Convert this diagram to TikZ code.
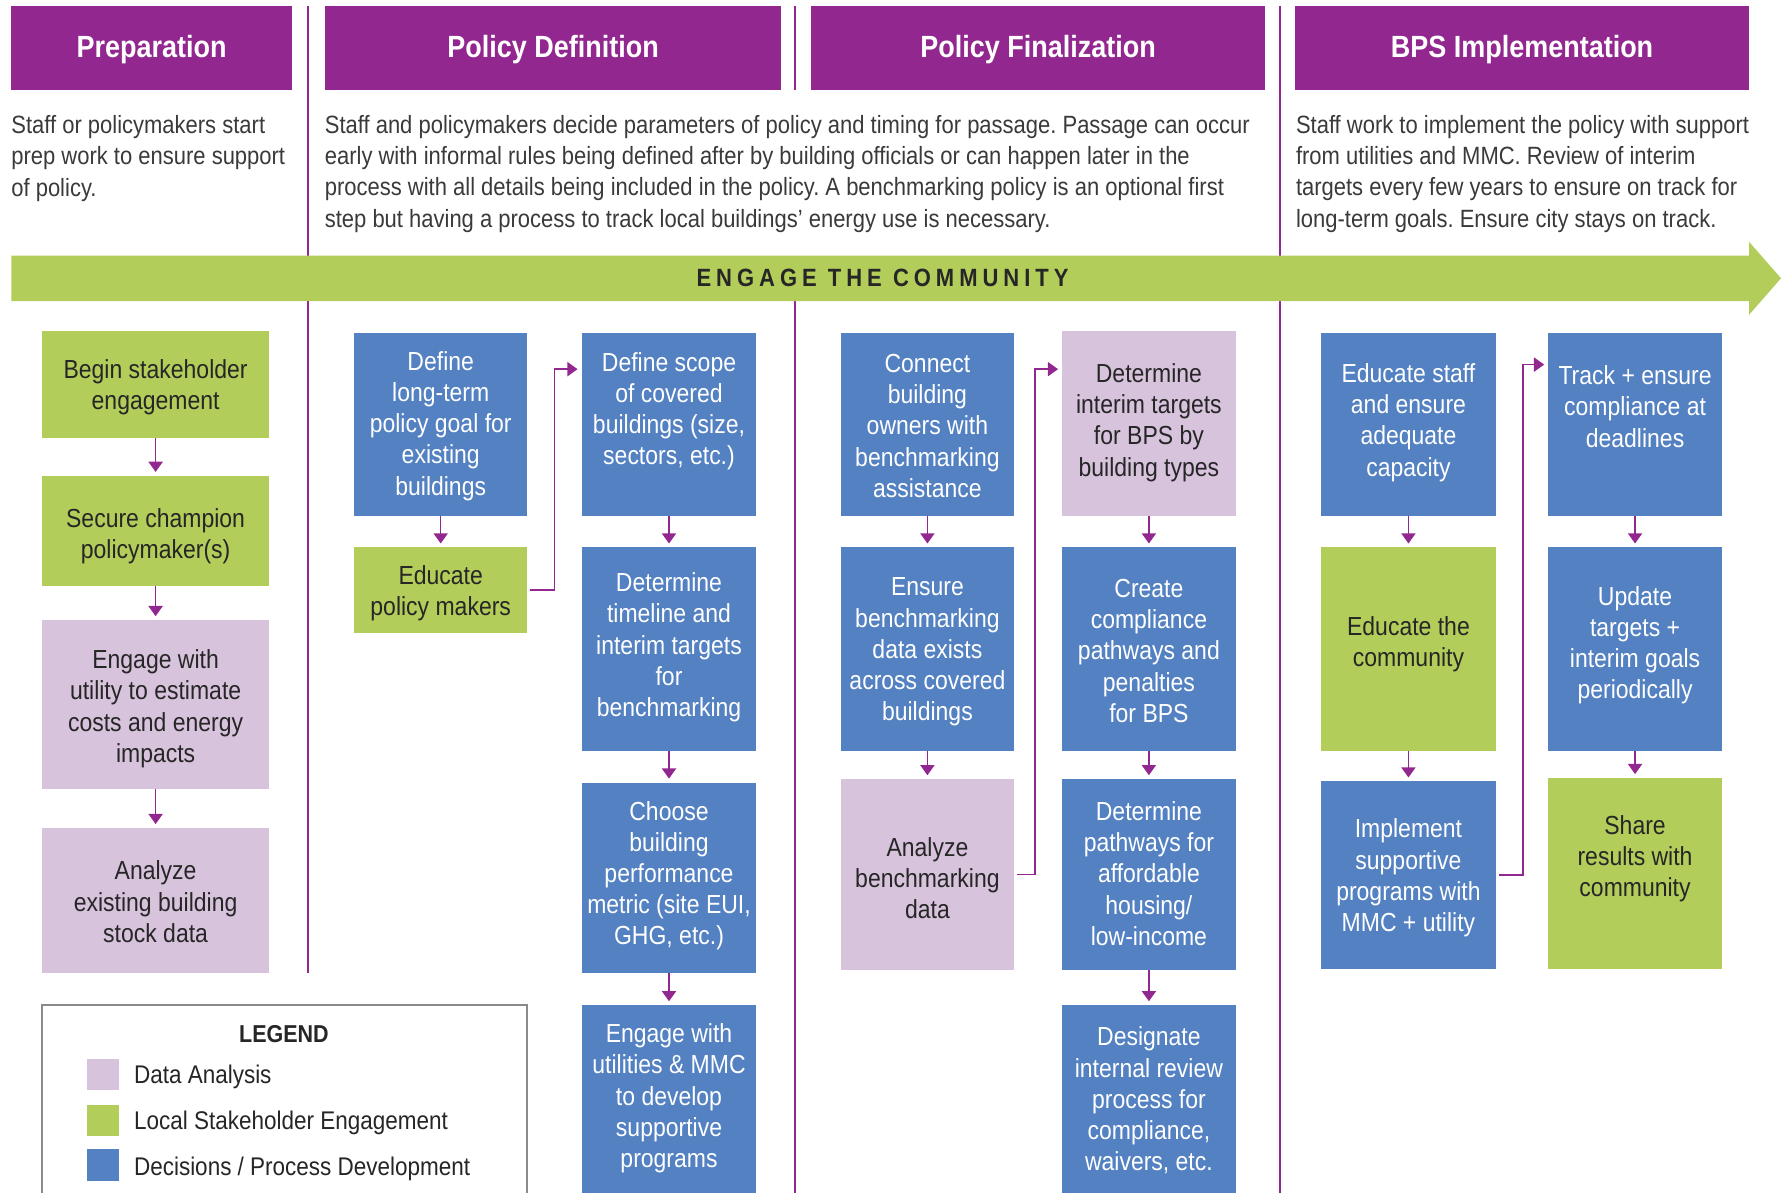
\documentclass[tikz,border=0pt]{standalone}
\usepackage{fontspec}
\setmainfont{Liberation Sans}[FakeStretch=0.88]
\newfontfamily\engfont{Liberation Sans}[FakeStretch=0.88, LetterSpace=20]
\usetikzlibrary{arrows.meta,fit}
\definecolor{purp}{HTML}{92278F}
\definecolor{grn}{HTML}{B3CD5A}
\definecolor{blu}{HTML}{5381C2}
\definecolor{lil}{HTML}{D7C3DC}
\definecolor{txt}{HTML}{3A3A3A}
\definecolor{dk}{HTML}{262626}
\definecolor{legline}{HTML}{8A8A8A}
\newcommand{\bx}[9]{%
  \node[fit={(#2,#3) (#4,#5)}, fill=#6] (#1) {};
  \node[btxt, text=#7] (#1t) at (#1.center |- 0,#8) {#9};}
\frenchspacing
\begin{document}
\begin{tikzpicture}[x=1pt, y=-1pt,
  every node/.style={inner sep=0pt, outer sep=0pt},
  hdrtxt/.style={text=white, yshift=-2pt, font=\fontsize{27}{30}\selectfont\bfseries},
  desc/.style={anchor=west, align=left, text=txt, yshift=-2pt, font=\fontsize{22}{27.5}\selectfont},
  btxt/.style={align=center, yshift=-2pt, font=\fontsize{23}{27.5}\selectfont},
  legtxt/.style={anchor=west, text=dk, yshift=-2pt, font=\fontsize{22.5}{27.5}\selectfont},
  arr/.style={draw=purp, line width=1.3pt, -{Triangle[width=12.5pt,length=9pt]}, shorten >=3.5pt},
  divider/.style={draw=purp, line width=2pt},
]
\useasboundingbox (0,0) rectangle (1568,1050);
\clip (0,0) rectangle (1568,1050);
\fill[white] (0,0) rectangle (1568,1050);

% dividers
\draw[divider] (271,5) -- (271,857);
\draw[divider] (700,5) -- (700,79);
\draw[divider] (700,265) -- (700,1050);
\draw[divider] (1127,5) -- (1127,1050);

% headers
\node[fit={(10,5) (257,79)}, fill=purp] (h1) {};
\node[hdrtxt] at (h1.center) {Preparation};
\node[fit={(286,5) (688,79)}, fill=purp] (h2) {};
\node[hdrtxt] at (h2.center) {Policy Definition};
\node[fit={(714,5) (1114,79)}, fill=purp] (h3) {};
\node[hdrtxt] at (h3.center) {Policy Finalization};
\node[fit={(1140,5) (1540,79)}, fill=purp] (h4) {};
\node[hdrtxt] at (h4.center) {BPS Implementation};

% descriptions
\node[desc] (d1) at (10,137.5) {Staff or policymakers start\\prep work to ensure support\\of policy.};
\node[desc] (d2) at (286,151) {Staff and policymakers decide parameters of policy and timing for passage. Passage can occur\\early with informal rules being defined after by building officials or can happen later in the\\process with all details being included in the policy. A benchmarking policy is an optional first\\step but having a process to track local buildings’ energy use is necessary.};
\node[desc] (d4) at (1141,151) {Staff work to implement the policy with support\\from utilities and MMC. Review of interim\\targets every few years to ensure on track for\\long-term goals. Ensure city stays on track.};

% engage band
\fill[grn] (10,225) -- (1540,225) -- (1540,213) -- (1568,245) -- (1540,277) -- (1540,265) -- (10,265) -- cycle;
\node[text=dk, font=\engfont\fontsize{22}{24}\selectfont\bfseries] (eng) at (777,245) {ENGAGE THE COMMUNITY};

% column 1
\bx{b11}{37}{291}{237}{386}{grn}{dk}{339}{Begin stakeholder\\engagement}
\bx{b12}{37}{419}{237}{516}{grn}{dk}{470}{Secure champion\\policymaker(s)}
\bx{b13}{37}{546}{237}{695}{lil}{dk}{622}{Engage with\\utility to estimate\\costs and energy\\impacts}
\bx{b14}{37}{729}{237}{857}{lil}{dk}{792}{Analyze\\existing building\\stock data}

% column 2
\bx{b21}{312}{293}{464}{454}{blu}{white}{373}{Define\\long-term\\policy goal for\\existing\\buildings}
\bx{b22}{312}{482}{464}{557}{grn}{dk}{520}{Educate\\policy makers}

% column 3
\bx{b31}{512}{293}{666}{454}{blu}{white}{360}{Define scope\\of covered\\buildings (size,\\sectors, etc.)}
\bx{b32}{512}{482}{666}{661}{blu}{white}{568}{Determine\\timeline and\\interim targets\\for\\benchmarking}
\bx{b33}{512}{689}{666}{857}{blu}{white}{769}{Choose\\building\\performance\\metric (site EUI,\\GHG, etc.)}
\bx{b34}{512}{885}{666}{1070}{blu}{white}{965}{Engage with\\utilities \& MMC\\to develop\\supportive\\programs}

% column 4
\bx{b41}{740}{293}{893}{454}{blu}{white}{373}{Connect\\building\\owners with\\benchmarking\\assistance}
\bx{b42}{740}{482}{893}{661}{blu}{white}{572}{Ensure\\benchmarking\\data exists\\across covered\\buildings}
\bx{b43}{740}{686}{893}{854}{lil}{dk}{771}{Analyze\\benchmarking\\data}

% column 5
\bx{b51}{935}{291}{1088}{454}{lil}{dk}{370}{Determine\\interim targets\\for BPS by\\building types}
\bx{b52}{935}{482}{1088}{661}{blu}{white}{571}{Create\\compliance\\pathways and\\penalties\\for BPS}
\bx{b53}{935}{686}{1088}{854}{blu}{white}{767}{Determine\\pathways for\\affordable\\housing/\\low-income}
\bx{b54}{935}{885}{1088}{1070}{blu}{white}{967}{Designate\\internal review\\process for\\compliance,\\waivers, etc.}

% column 6
\bx{b61}{1163}{293}{1317}{454}{blu}{white}{370}{Educate staff\\and ensure\\adequate\\capacity}
\bx{b62}{1163}{482}{1317}{661}{grn}{dk}{565}{Educate the\\community}
\bx{b63}{1163}{688}{1317}{853}{blu}{white}{771}{Implement\\supportive\\programs with\\MMC + utility}

% column 7
\bx{b71}{1363}{293}{1516}{454}{blu}{white}{356}{Track + ensure\\compliance at\\deadlines}
\bx{b72}{1363}{482}{1516}{661}{blu}{white}{566}{Update\\targets +\\interim goals\\periodically}
\bx{b73}{1363}{685}{1516}{853}{grn}{dk}{754}{Share\\results with\\community}

% vertical arrows
\draw[arr] (b11.south) -- (b12.north);
\draw[arr] (b12.south) -- (b13.north);
\draw[arr] (b13.south) -- (b14.north);
\draw[arr] (b21.south) -- (b22.north);
\draw[arr] (b31.south) -- (b32.north);
\draw[arr] (b32.south) -- (b33.north);
\draw[arr] (b33.south) -- (b34.north);
\draw[arr] (b41.south) -- (b42.north);
\draw[arr] (b42.south) -- (b43.north);
\draw[arr] (b51.south) -- (b52.north);
\draw[arr] (b52.south) -- (b53.north);
\draw[arr] (b53.south) -- (b54.north);
\draw[arr] (b61.south) -- (b62.north);
\draw[arr] (b62.south) -- (b63.north);
\draw[arr] (b71.south) -- (b72.north);
\draw[arr] (b72.south) -- (b73.north);

% elbow arrows
\draw[arr] ([xshift=3pt]b22.east) -- ++(21,0) |- ([yshift=-32pt]b31.north west);
\draw[arr] ([xshift=2pt]b43.east) -- ++(16,0) |- ([yshift=-34pt]b51.north west);
\draw[arr] ([xshift=3pt]b63.east) -- ++(21,0) |- ([yshift=-28pt]b71.north west);

% legend
\node[fit={(37,885) (464,1070)}, draw=legline, line width=1.3pt] (leg) {};
\node[text=dk, yshift=-2pt, font=\fontsize{21.5}{24}\selectfont\bfseries] (legt) at (250,908) {LEGEND};
\node[fit={(77,932) (105,960)}, fill=lil] (s1) {};
\node[legtxt] (s1t) at (118,946) {Data Analysis};
\node[fit={(77,973) (105,1000)}, fill=grn] (s2) {};
\node[legtxt] (s2t) at (118,987) {Local Stakeholder Engagement};
\node[fit={(77,1012) (105,1040)}, fill=blu] (s3) {};
\node[legtxt] (s3t) at (118,1027) {Decisions / Process Development};
\end{tikzpicture}
\end{document}
